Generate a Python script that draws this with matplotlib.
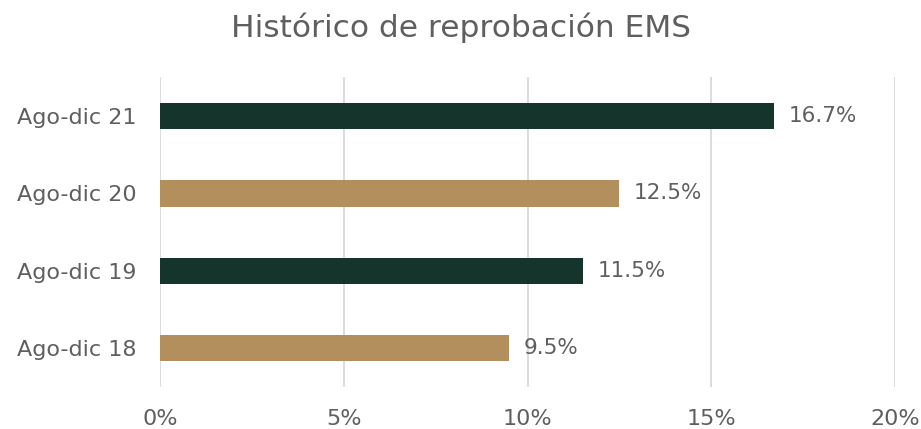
import matplotlib
matplotlib.use("Agg")
import matplotlib.pyplot as plt

periods = ["Ago-dic 18", "Ago-dic 19", "Ago-dic 20", "Ago-dic 21"]
rates = [9.5, 11.5, 12.5, 16.7]
bar_colors = ["#b38f5e", "#15342c", "#b38f5e", "#15342c"]
ticks = [0, 5, 10, 15, 20]

plt.rcParams["font.family"] = ["DejaVu Sans"]
text_color = "#5f5f5f"

fig = plt.figure(figsize=(9.21, 4.29), dpi=100)
ax = fig.add_axes([0.1737, 0.0986, 0.7981, 0.721])

ax.barh(range(len(periods)), rates, height=0.34, color=bar_colors, zorder=3)
for i, v in enumerate(rates):
    ax.text(v + 0.4, i, f"{v}%", va="center", ha="left",
            fontsize=15.5, color=text_color)

ax.set_xlim(0, 20)
ax.set_ylim(-0.5, 3.5)
ax.set_xticks(ticks)
ax.set_xticklabels([f"{t}%" for t in ticks])
ax.set_yticks(range(len(periods)))
ax.set_yticklabels(periods)
ax.tick_params(axis="both", length=0, labelsize=16, labelcolor=text_color)
ax.tick_params(axis="x", pad=16)
ax.tick_params(axis="y", pad=17)
ax.grid(axis="x", color="#d9d9d9", linewidth=1.3, zorder=0)
for s in ax.spines.values():
    s.set_visible(False)

fig.text(0.5, 0.935, "Histórico de reprobación EMS", ha="center", va="center",
         fontsize=22.5, color=text_color)

fig.savefig("out.png", dpi=100)
